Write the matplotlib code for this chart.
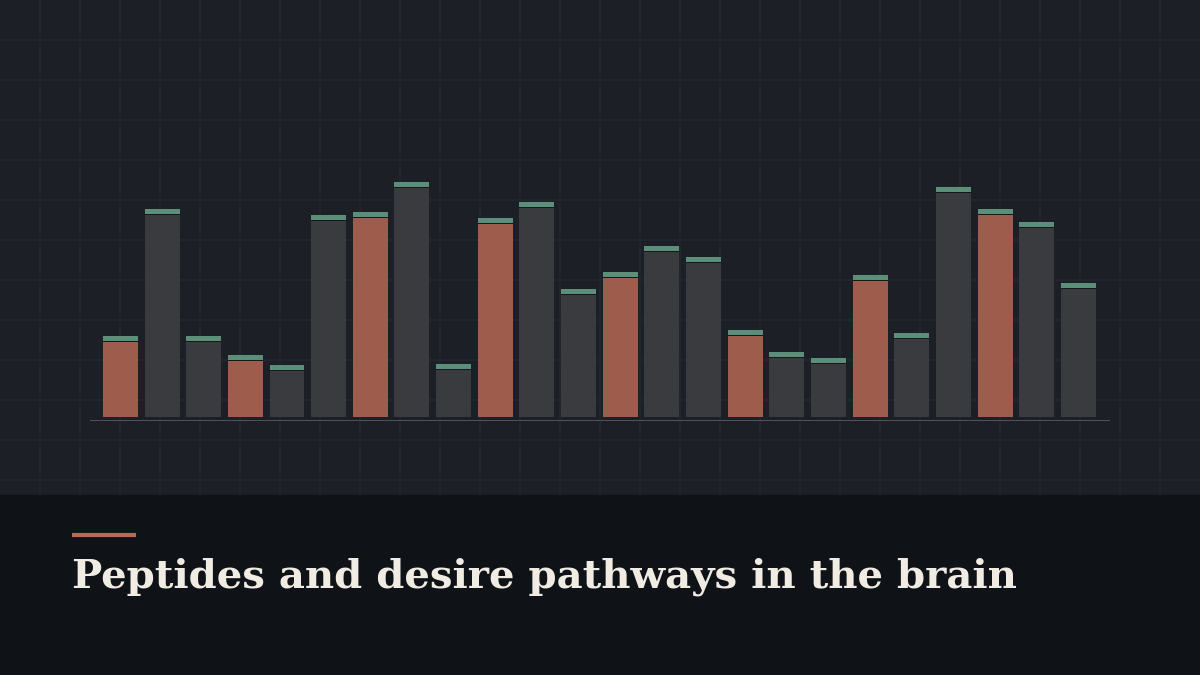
import matplotlib
matplotlib.use('Agg')
import matplotlib.pyplot as plt

# bar heights (px-like units above the baseline), left to right
values = [81, 208, 81, 62, 52, 202, 205, 235, 53, 199, 215, 128,
          145, 171, 160, 87, 65, 59, 142, 84, 230, 208, 195, 134]
# which bars are highlighted in orange
highlight = [1, 0, 0, 1, 0, 0, 1, 0, 0, 1, 0, 0,
             1, 0, 0, 1, 0, 0, 1, 0, 0, 1, 0, 0]
title = 'Peptides and desire pathways in the brain'

W, H = 1200, 675
bg_top = '#1c1f26'
bg_bottom = '#0f1216'
grid_col = '#23272f'
orange = '#9e5c4c'
gray = '#3a3b3e'
cap_col = '#5b8f7a'

fig = plt.figure(figsize=(12, 6.75), dpi=100)
fig.patch.set_facecolor(bg_top)

# background: grid + bottom panel, in pixel coordinates
bg = fig.add_axes([0, 0, 1, 1])
bg.set_xlim(0, W)
bg.set_ylim(H, 0)
bg.axis('off')
for x in range(40, W, 40):
    bg.plot([x, x], [0, 495], color=grid_col, lw=1.2, zorder=0)
for y in range(40, 495, 40):
    bg.plot([0, W], [y, y], color=grid_col, lw=1.2, zorder=0)
bg.fill_between([0, W], 495, H, color=bg_bottom, zorder=1)
bg.plot([72, 136], [535, 535], color='#b86a55', lw=3, solid_capstyle='butt', zorder=2)
bg.text(72, 588, title, fontsize=29, fontweight='bold', family='DejaVu Serif',
        color='#f0ebe3', va='baseline', ha='left', zorder=3)

# bar chart axes: 1 unit = 1 px vertically
left_px, right_px = 90, 1110
bottom_px, top_px = 421, 100
ax = fig.add_axes([left_px / W, (H - bottom_px) / H,
                   (right_px - left_px) / W, (bottom_px - top_px) / H])
ax.set_facecolor('none')
ax.set_xlim(-0.73, 23.76)
ax.set_ylim(-4, bottom_px - top_px - 4)
ax.axis('off')

xs = list(range(len(values)))
cols = [orange if h else gray for h in highlight]
bw = 0.84
ax.bar(xs, [v - 5.5 for v in values], width=bw, color=cols, zorder=2)
ax.bar(xs, [1.2] * len(values), bottom=[v - 5.5 for v in values], width=bw,
       color='#16181c', zorder=2)
ax.bar(xs, [4.5] * len(values), bottom=[v - 4.5 for v in values], width=bw,
       color=cap_col, zorder=2)
ax.axhline(-3.5, color='#55585d', lw=2, zorder=3)

fig.savefig('out.png', dpi=100, facecolor=fig.get_facecolor())
